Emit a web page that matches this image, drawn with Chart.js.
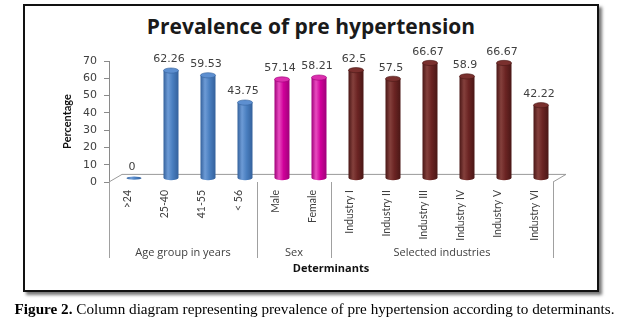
<!DOCTYPE html>
<html>
<head>
<meta charset="utf-8">
<script src="https://cdn.jsdelivr.net/npm/chart.js@4/dist/chart.umd.min.js"></script>
<style>
  body { margin: 0; background: #fff; width: 629px; height: 325px; position: relative; overflow: hidden; }
  #frame { position: absolute; left: 23px; top: 4px; width: 572px; height: 284px; border: 2px solid #111;
           box-shadow: 3px 3px 3px #777; background: #fff; }
  #title { position: absolute; left: 24px; width: 574px; top: 12px; line-height: 26px; text-align: center;
           font: bold 21px "Open Sans", sans-serif; color: #1a1a1a; }
  #chart { position: absolute; left: 0; top: 0; }
  #caption { position: absolute; left: 0; width: 629px; top: 300px; line-height: 19px; text-align: center;
             font: 15.2px "Liberation Serif", serif; color: #000; white-space: nowrap; }
</style>
</head>
<body>
<div id="frame"></div>
<div id="title">Prevalence of pre hypertension</div>
<canvas id="chart" width="629" height="325"></canvas>
<div id="caption"><b>Figure 2.</b> Column diagram representing prevalence of pre hypertension according to determinants.</div>
<script>
const categories = ['>24', '25-40', '41-55', '< 56', 'Male', 'Female',
  'Industry I', 'Industry II', 'Industry III', 'Industry IV', 'Industry V', 'Industry VI'];
const values = [0, 62.26, 59.53, 43.75, 57.14, 58.21, 62.5, 57.5, 66.67, 58.9, 66.67, 42.22];
const groupNames = ['Age group in years', 'Sex', 'Selected industries'];
const groupSizes = [4, 2, 6];
const yTicks = [0, 10, 20, 30, 40, 50, 60, 70];

// colours per group: [dark edge, light highlight, mid, top cap]
const groupColors = [
  ['#34619c', '#6d9bd6', '#4a7fc0', '#5d8fd0'],
  ['#a0007a', '#e84cc0', '#d0009a', '#dc2eae'],
  ['#4a1716', '#84403c', '#6b2423', '#7a302e']
];

const depthX = 6.5, depthY = 3.8;   // half depth of the 3D floor
const capH = 2.6;

function colorFor(i) {
  let n = 0;
  for (let g = 0; g < groupSizes.length; g++) {
    n += groupSizes[g];
    if (i < n) return groupColors[g];
  }
  return groupColors[0];
}

const cylinders = {
  id: 'cylinders',
  beforeDatasetsDraw(chart) {
    const ctx = chart.ctx;
    const a = chart.chartArea;
    const y0 = chart.scales.y.getPixelForValue(0);
    ctx.save();
    ctx.strokeStyle = '#9a9a9a';
    ctx.lineWidth = 1;
    ctx.beginPath();
    ctx.moveTo(a.left, y0);
    ctx.lineTo(a.left + 2 * depthX, y0 - 2 * depthY);
    ctx.lineTo(a.right + 2 * depthX, y0 - 2 * depthY);
    ctx.lineTo(a.right, y0);
    ctx.stroke();
    ctx.restore();
  },
  afterDatasetsDraw(chart) {
    const ctx = chart.ctx;
    const meta = chart.getDatasetMeta(0);
    ctx.save();
    meta.data.forEach((el, i) => {
      const c = colorFor(i);
      const x = el.x + depthX;
      const top = el.y - depthY;
      const base = el.base - depthY;
      const w = el.width;
      const l = x - w / 2, r = x + w / 2;
      const g = ctx.createLinearGradient(l, 0, r, 0);
      g.addColorStop(0, c[0]);
      g.addColorStop(0.3, c[1]);
      g.addColorStop(0.6, c[2]);
      g.addColorStop(1, c[0]);
      if (base - top > 0.5) {
        ctx.fillStyle = g;
        ctx.beginPath();
        ctx.moveTo(l, top);
        ctx.lineTo(l, base);
        ctx.ellipse(x, base, w / 2, capH, 0, Math.PI, 0, true);
        ctx.lineTo(r, top);
        ctx.closePath();
        ctx.fill();
        ctx.fillStyle = c[3];
        ctx.beginPath();
        ctx.ellipse(x, top, w / 2, capH, 0, 0, Math.PI * 2);
        ctx.fill();
        ctx.strokeStyle = c[0];
        ctx.lineWidth = 0.6;
        ctx.stroke();
      } else {
        ctx.fillStyle = g;
        ctx.beginPath();
        ctx.ellipse(x, base, w / 2, 1.6, 0, 0, Math.PI * 2);
        ctx.fill();
      }
      ctx.fillStyle = '#404040';
      ctx.font = '11px "DejaVu Sans"';
      ctx.textAlign = 'center';
      ctx.textBaseline = 'bottom';
      ctx.fillText(String(values[i]), x - 2, top - capH - 3);
    });
    ctx.restore();
  },
  afterDraw(chart) {
    const ctx = chart.ctx;
    const xs = chart.scales.x;
    const y0 = chart.scales.y.getPixelForValue(0);
    const half = (xs.getPixelForValue(1) - xs.getPixelForValue(0)) / 2;
    ctx.save();
    ctx.strokeStyle = '#a0a0a0';
    ctx.lineWidth = 1;
    ctx.fillStyle = '#404040';
    ctx.font = '11px "Open Sans"';
    ctx.textAlign = 'center';
    ctx.textBaseline = 'middle';
    let start = 0;
    const edges = [xs.getPixelForValue(0) - half];
    groupSizes.forEach((n, g) => {
      const x1 = xs.getPixelForValue(start) - half;
      const x2 = xs.getPixelForValue(start + n - 1) + half;
      edges.push(x2);
      ctx.fillText(groupNames[g], (x1 + x2) / 2, y0 + 71);
      start += n;
    });
    edges.forEach(x => {
      const px = Math.round(x) + 0.5;
      ctx.beginPath();
      ctx.moveTo(px, y0);
      ctx.lineTo(px, y0 + 76);
      ctx.stroke();
    });
    ctx.restore();
  }
};

new Chart(document.getElementById('chart'), {
  type: 'bar',
  data: {
    labels: categories,
    datasets: [{
      data: values,
      backgroundColor: 'rgba(0,0,0,0)',
      borderWidth: 0,
      barThickness: 15
    }]
  },
  options: {
    responsive: false,
    animation: false,
    layout: { padding: { left: 61, right: 76, top: 61, bottom: 50 } },
    plugins: { legend: { display: false }, tooltip: { enabled: false } },
    scales: {
      x: {
        grid: { display: false },
        border: { display: false },
        ticks: {
          minRotation: 90, maxRotation: 90, padding: 0,
          color: '#404040', font: { family: 'Lato', size: 10.5 }
        },
        title: {
          display: true, text: 'Determinants', color: '#111',
          font: { family: 'Open Sans', size: 11, weight: 'bold' }, padding: 0
        },
        afterFit(scale) { scale.height = 93; }
      },
      y: {
        min: 0, max: 70,
        afterBuildTicks(scale) { scale.ticks = yTicks.map(v => ({ value: v })); },
        grid: { drawOnChartArea: false, drawTicks: true, tickLength: 5, color: '#8a8a8a' },
        border: { display: true, color: '#8a8a8a' },
        ticks: { padding: 7, color: '#404040', font: { family: 'DejaVu Sans', size: 11 } },
        title: {
          display: true, text: 'Percentage', color: '#111',
          font: { family: 'Lato', size: 11, weight: 'bold' }, padding: 0
        },
        afterFit(scale) { scale.width = 48; }
      }
    }
  },
  plugins: [cylinders]
});
</script>
</body>
</html>
